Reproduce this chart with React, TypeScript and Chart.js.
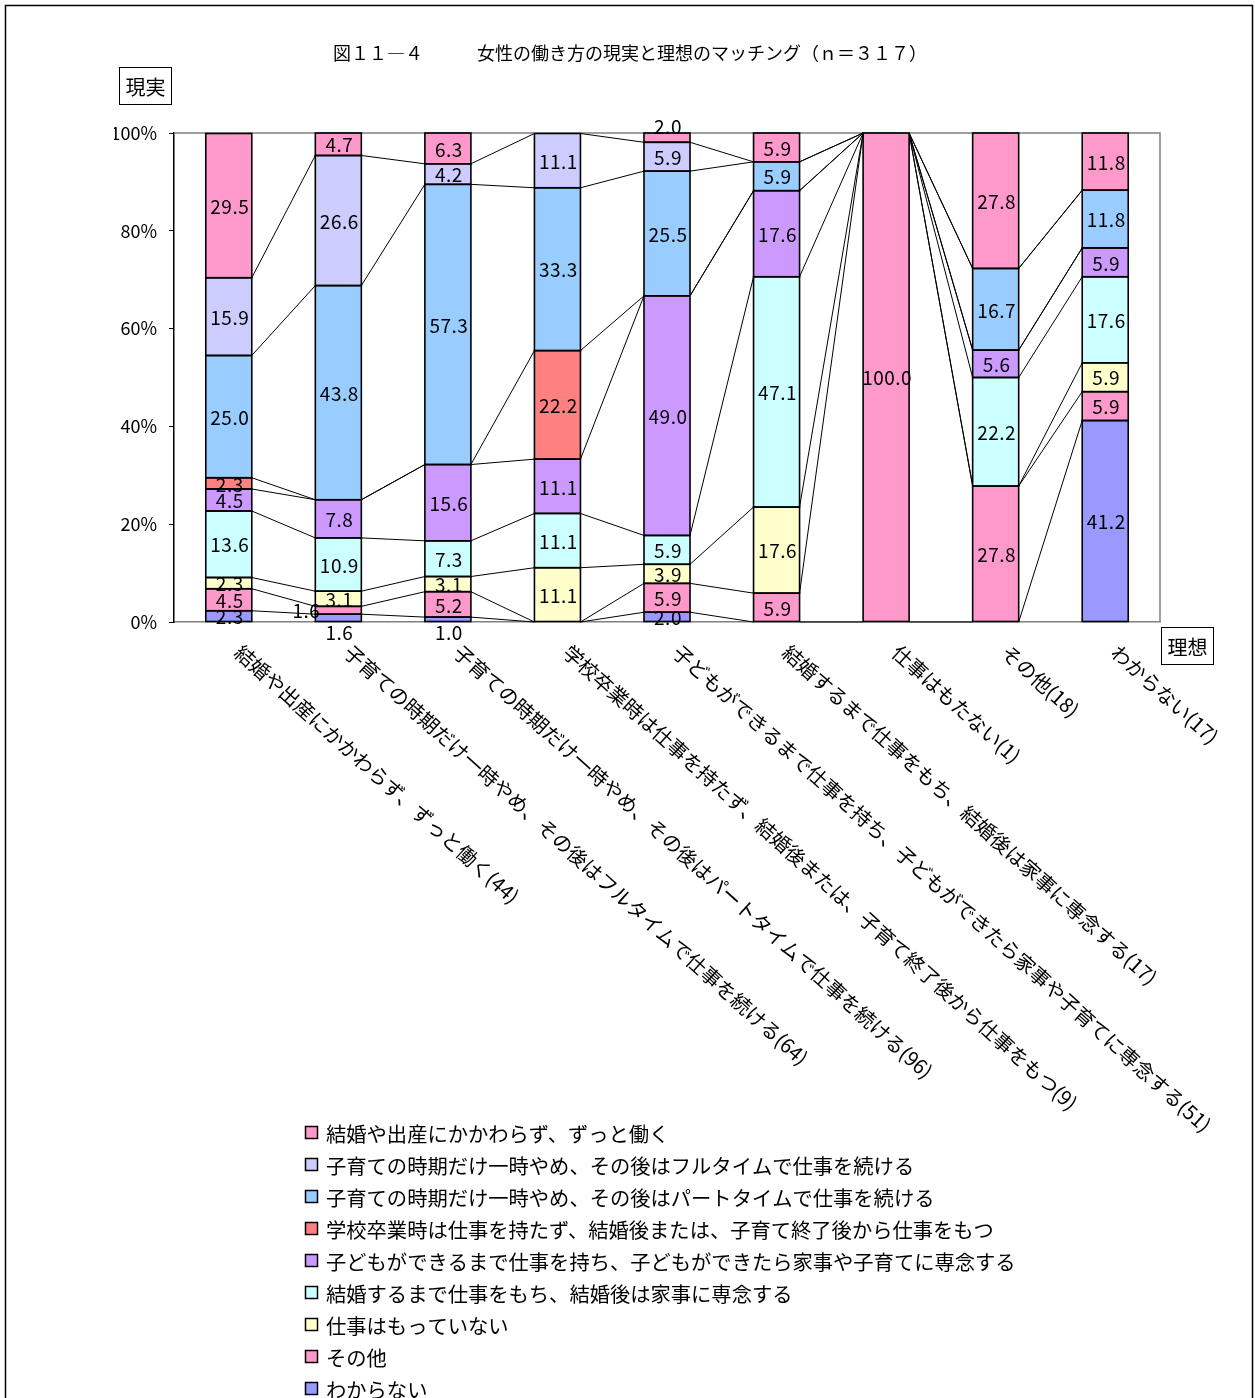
import React, { useEffect, useRef } from "react";
import { Chart, registerables } from "chart.js";

Chart.register(...registerables);

const FONT = '"Noto Sans CJK JP", "Noto Sans CJK SC", sans-serif';

const TITLE = "図１１―４　　　女性の働き方の現実と理想のマッチング（ｎ＝３１７）";
const LEFT_TAG = "現実";
const RIGHT_TAG = "理想";

const categories = [
  "結婚や出産にかかわらず、ずっと働く(44)",
  "子育ての時期だけ一時やめ、その後はフルタイムで仕事を続ける(64)",
  "子育ての時期だけ一時やめ、その後はパートタイムで仕事を続ける(96)",
  "学校卒業時は仕事を持たず、結婚後または、子育て終了後から仕事をもつ(9)",
  "子どもができるまで仕事を持ち、子どもができたら家事や子育てに専念する(51)",
  "結婚するまで仕事をもち、結婚後は家事に専念する(17)",
  "仕事はもたない(1)",
  "その他(18)",
  "わからない(17)",
];

// stacking order: bottom first
const seriesNames = [
  "わからない",
  "その他",
  "仕事はもっていない",
  "結婚するまで仕事をもち、結婚後は家事に専念する",
  "子どもができるまで仕事を持ち、子どもができたら家事や子育てに専念する",
  "学校卒業時は仕事を持たず、結婚後または、子育て終了後から仕事をもつ",
  "子育ての時期だけ一時やめ、その後はパートタイムで仕事を続ける",
  "子育ての時期だけ一時やめ、その後はフルタイムで仕事を続ける",
  "結婚や出産にかかわらず、ずっと働く",
];
const seriesColors = [
  "#9999FF",
  "#FF99CC",
  "#FFFFCC",
  "#CCFFFF",
  "#CC99FF",
  "#FF8080",
  "#99CCFF",
  "#CCCCFF",
  "#FF99CC",
];

const wakaranai = [2.3, 1.6, 1.0, 0, 2.0, 0, 0, 0, 41.2];
const sonota = [4.5, 1.6, 5.2, 0, 5.9, 5.9, 100.0, 27.8, 5.9];
const shigotoNashi = [2.3, 3.1, 3.1, 11.1, 3.9, 17.6, 0, 0, 5.9];
const kekkonMade = [13.6, 10.9, 7.3, 11.1, 5.9, 47.1, 0, 22.2, 17.6];
const kodomoMade = [4.5, 7.8, 15.6, 11.1, 49.0, 17.6, 0, 5.6, 5.9];
const sotsugyoAto = [2.3, 0, 0, 22.2, 0, 0, 0, 0, 0];
const partTime = [25.0, 43.8, 57.3, 33.3, 25.5, 5.9, 0, 16.7, 11.8];
const fullTime = [15.9, 26.6, 4.2, 11.1, 5.9, 0, 0, 0, 0];
const zuttoHataraku = [29.5, 4.7, 6.3, 0, 2.0, 5.9, 0, 27.8, 11.8];

const seriesValues = [
  wakaranai,
  sonota,
  shigotoNashi,
  kekkonMade,
  kodomoMade,
  sotsugyoAto,
  partTime,
  fullTime,
  zuttoHataraku,
];

const yTicks = [0, 20, 40, 60, 80, 100];

const overlayPlugin = {
  id: "overlay",
  afterDatasetsDraw(chart: any) {
    const ctx = chart.ctx as CanvasRenderingContext2D;
    const n = chart.data.labels.length;
    const ds = chart.data.datasets;
    const area = chart.chartArea;
    ctx.save();
    // plot area top & right border (gray)
    ctx.strokeStyle = "#808080";
    ctx.lineWidth = 1.5;
    ctx.beginPath();
    ctx.moveTo(area.left, area.top);
    ctx.lineTo(area.right, area.top);
    ctx.lineTo(area.right, area.bottom);
    ctx.stroke();

    // segment outlines
    ctx.strokeStyle = "#000";
    ctx.lineWidth = 1.6;
    for (let k = 0; k < ds.length; k++) {
      const meta = chart.getDatasetMeta(k);
      for (let i = 0; i < n; i++) {
        if (!ds[k].data[i]) continue;
        const el = meta.data[i].getProps(["x", "y", "base", "width"], true);
        const top = Math.max(el.y, area.top);
        ctx.strokeRect(el.x - el.width / 2, top, el.width, el.base - top);
      }
    }

    // series lines
    ctx.lineWidth = 1;
    for (let k = 0; k < ds.length - 1; k++) {
      const meta = chart.getDatasetMeta(k);
      for (let i = 0; i < n - 1; i++) {
        const a = meta.data[i].getProps(["x", "y", "width"], true);
        const b = meta.data[i + 1].getProps(["x", "y", "width"], true);
        ctx.beginPath();
        ctx.moveTo(a.x + a.width / 2, a.y);
        ctx.lineTo(b.x - b.width / 2, b.y);
        ctx.stroke();
      }
    }

    // data labels
    ctx.fillStyle = "#000";
    ctx.font = `19px ${FONT}`;
    (ctx as any).letterSpacing = "0.5px";
    ctx.textBaseline = "middle";
    for (let k = 0; k < ds.length; k++) {
      const meta = chart.getDatasetMeta(k);
      for (let i = 0; i < n; i++) {
        const v = ds[k].data[i];
        if (!v) continue;
        const el = meta.data[i].getProps(["x", "y", "base", "width"], true);
        let cum = 0;
        for (let j = 0; j < k; j++) cum += ds[j].data[i];
        let higher = 0;
        for (let j = k + 1; j < ds.length; j++) higher += ds[j].data[i];
        let x = el.x;
        let y = (el.y + el.base) / 2;
        ctx.textAlign = "center";
        if (v <= 2 && higher === 0) {
          y = el.y - 7;
        } else if (v < 2 && cum === 0) {
          y = el.base + 10;
        } else if (v < 2) {
          x = el.x - el.width / 2 + 4;
          ctx.textAlign = "right";
        }
        ctx.fillText(v.toFixed(1), x + 1, y + 1);
      }
    }
    ctx.restore();
  },
  afterDraw(chart: any) {
    const ctx = chart.ctx as CanvasRenderingContext2D;
    const xs = chart.scales.x;
    const area = chart.chartArea;
    ctx.save();
    ctx.fillStyle = "#000";
    ctx.strokeStyle = "#000";

    // outer frame
    ctx.lineWidth = 1.5;
    ctx.strokeRect(5.5, 5.5, 1247, 1500);

    // title
    ctx.font = `18px ${FONT}`;
    ctx.textAlign = "center";
    ctx.textBaseline = "middle";
    ctx.fillText(TITLE, 630, 53);

    // tag boxes
    ctx.lineWidth = 1;
    ctx.font = `20px ${FONT}`;
    ctx.strokeRect(119.5, 67.5, 52, 37);
    ctx.fillText(LEFT_TAG, 145.5, 87);
    ctx.strokeRect(area.right + 1.5, area.bottom + 5.5, 52, 37);
    ctx.fillText(RIGHT_TAG, area.right + 27.5, area.bottom + 25);

    // rotated category labels
    ctx.font = `20px ${FONT}`;
    ctx.textAlign = "left";
    ctx.textBaseline = "middle";
    const labels = chart.data.labels as string[];
    const ang = (42 * Math.PI) / 180;
    labels.forEach((lab, i) => {
      const cx = xs.getPixelForValue(i);
      ctx.save();
      ctx.translate(cx + 9, area.bottom + 27);
      ctx.rotate(ang);
      ctx.fillText(lab, 0, 0);
      ctx.restore();
    });

    // legend (top series first)
    const ds = chart.data.datasets;
    ctx.font = `20.3px ${FONT}`;
    ctx.textAlign = "left";
    ctx.textBaseline = "middle";
    for (let r = 0; r < ds.length; r++) {
      const d = ds[ds.length - 1 - r];
      const cy = 1133 + r * 32;
      ctx.fillStyle = d.backgroundColor;
      ctx.fillRect(305.5, cy - 6.5, 12, 12);
      ctx.strokeStyle = "#000";
      ctx.lineWidth = 1.5;
      ctx.strokeRect(305.5, cy - 6.5, 12, 12);
      ctx.fillStyle = "#000";
      ctx.fillText(d.label, 326, cy + 1);
    }
    ctx.restore();
  },
};

export default function App() {
  const ref = useRef<HTMLCanvasElement>(null);
  useEffect(() => {
    if (!ref.current) return;
    const chart = new Chart(ref.current, {
      type: "bar",
      data: {
        labels: categories,
        datasets: seriesNames.map((name, k) => ({
          label: name,
          data: seriesValues[k],
          backgroundColor: seriesColors[k],
          borderWidth: 0,
          inflateAmount: 0,
          barPercentage: 0.42,
          categoryPercentage: 1,
        })),
      },
      options: {
        responsive: false,
        animation: false,
        devicePixelRatio: 1,
        layout: { padding: { left: 114, right: 95, top: 133, bottom: 776 } },
        plugins: { legend: { display: false }, tooltip: { enabled: false }, title: { display: false } },
        scales: {
          x: {
            stacked: true,
            grid: { display: false },
            ticks: { display: false },
            border: { display: true, color: "#808080", width: 1.5 },
            afterFit: (s: any) => {
              s.height = 0;
            },
          },
          y: {
            stacked: true,
            min: 0,
            max: 100,
            afterBuildTicks: (s: any) => {
              s.ticks = yTicks.map((v) => ({ value: v }));
            },
            ticks: {
              callback: (v: any) => `${v}%`,
              color: "#000",
              font: { family: FONT, size: 18 },
              padding: 12,
            },
            grid: { display: true, drawOnChartArea: false, drawTicks: true, tickLength: 5, color: "#000" },
            border: { display: true, color: "#000", width: 1.5 },
            afterFit: (s: any) => {
              s.width = 60;
            },
          },
        },
      },
      plugins: [overlayPlugin],
    });
    return () => chart.destroy();
  }, []);
  return (
    <div style={{ position: "absolute", left: 0, top: 0, width: 1255, height: 1398, background: "#fff" }}>
      <canvas ref={ref} width={1255} height={1398} style={{ display: "block" }} />
    </div>
  );
}
